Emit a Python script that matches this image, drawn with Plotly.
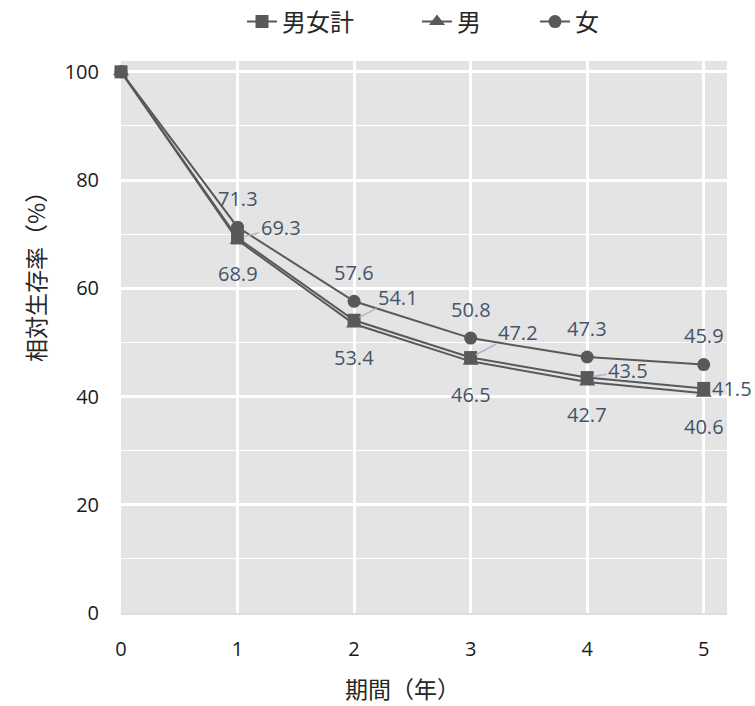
import plotly.graph_objects as go

years = [0, 1, 2, 3, 4, 5]
total = [100, 69.3, 54.1, 47.2, 43.5, 41.5]
male = [100, 68.9, 53.4, 46.5, 42.7, 40.6]
female = [100, 71.3, 57.6, 50.8, 47.3, 45.9]
series_names = ["男女計", "男", "女"]

# label offsets for the 男女計 labels (pixels: right, up)
total_offsets = [None, (43, 10), (44, 23), (47, 25), (41, 7), (28, 0)]

LINE = "#595959"
LBL = "#44546a"
NUMFONT = "Segoe UI, Open Sans, Noto Sans, sans-serif"
JPFONT = "Noto Sans CJK JP, sans-serif"

PL, PR, PT, PB = 121, 28, 61, 93
W, H = 755, 706
PW = W - PL - PR
PH = H - PT - PB


def px_x(p):
    return (p - PL) / PW


def px_y(p):
    return (H - PB - p) / PH


legend_ids = ["legend", "legend2", "legend3"]
legend_left_px = [242, 417, 535]

fig = go.Figure()
for i, (name, vals, sym) in enumerate([(series_names[0], total, "square"),
                                       (series_names[1], male, "triangle-up"),
                                       (series_names[2], female, "circle")]):
    fig.add_trace(go.Scatter(
        x=years, y=vals, name=name, mode="lines+markers",
        line=dict(color=LINE, width=2),
        marker=dict(symbol=sym, size=13 if sym != "triangle-up" else 14, color=LINE),
        cliponaxis=False, legend=legend_ids[i],
    ))

# female labels above
for x, v in zip(years[1:], female[1:]):
    fig.add_annotation(x=x, y=v, text=f"{v}", showarrow=False, yshift=29,
                       font=dict(size=20, color=LBL, family=NUMFONT))
# male labels below
for x, v in zip(years[1:], male[1:]):
    fig.add_annotation(x=x, y=v, text=f"{v}", showarrow=False, yshift=-33,
                       font=dict(size=20, color=LBL, family=NUMFONT))
# total labels right with leader lines
for x, v, off in zip(years[1:], total[1:], total_offsets[1:]):
    dx, dy = off
    if dx > 30:
        fig.add_annotation(x=x, y=v, text=f"{v}", showarrow=True,
                           ax=dx, ay=-dy, arrowhead=0, arrowwidth=1.5,
                           arrowcolor="#a9b8cc", standoff=6,
                           font=dict(size=20, color=LBL, family=NUMFONT))
    else:
        fig.add_annotation(x=x, y=v, text=f"{v}", showarrow=False,
                           xshift=dx, yshift=dy,
                           font=dict(size=20, color=LBL, family=NUMFONT))

# axis titles
fig.add_annotation(xref="paper", yref="paper", x=px_x(35), y=px_y(271),
                   xanchor="center", yanchor="middle",
                   text="相対生存率（%）", textangle=-90, showarrow=False,
                   font=dict(size=23, color="#262626", family=JPFONT))
fig.add_annotation(xref="paper", yref="paper", x=px_x(402), y=px_y(688),
                   xanchor="center", yanchor="middle",
                   text="期間（年）", showarrow=False,
                   font=dict(size=23, color="#262626", family=JPFONT))

leg_common = dict(orientation="h", xanchor="left", yanchor="middle",
                  font=dict(size=24, color="#262626", family=JPFONT),
                  bgcolor="rgba(0,0,0,0)")
layout_legends = {}
for lid, lx in zip(legend_ids, legend_left_px):
    layout_legends[lid] = dict(leg_common, x=px_x(lx), y=px_y(22))

fig.update_layout(
    width=W, height=H,
    margin=dict(l=PL, r=PR, t=PT, b=PB, autoexpand=False),
    paper_bgcolor="white",
    plot_bgcolor="#e4e4e4",
    showlegend=True,
    xaxis=dict(range=[0, 5.2], tickvals=years, showgrid=True, gridcolor="white",
               gridwidth=3, zeroline=False, showline=True, linecolor="#d9dee6",
               linewidth=2, ticks="", ticklabelstandoff=17,
               tickfont=dict(size=20, color="#1a1a1a", family=NUMFONT)),
    yaxis=dict(range=[0, 102], tickvals=[0, 20, 40, 60, 80, 100], showgrid=True,
               gridcolor="white", gridwidth=3, zeroline=False, showline=False,
               ticks="", ticklabelstandoff=21,
               minor=dict(dtick=10, showgrid=True, gridcolor="white", gridwidth=1),
               tickfont=dict(size=20, color="#1a1a1a", family=NUMFONT)),
    **layout_legends,
)

fig.write_html("out.html")
